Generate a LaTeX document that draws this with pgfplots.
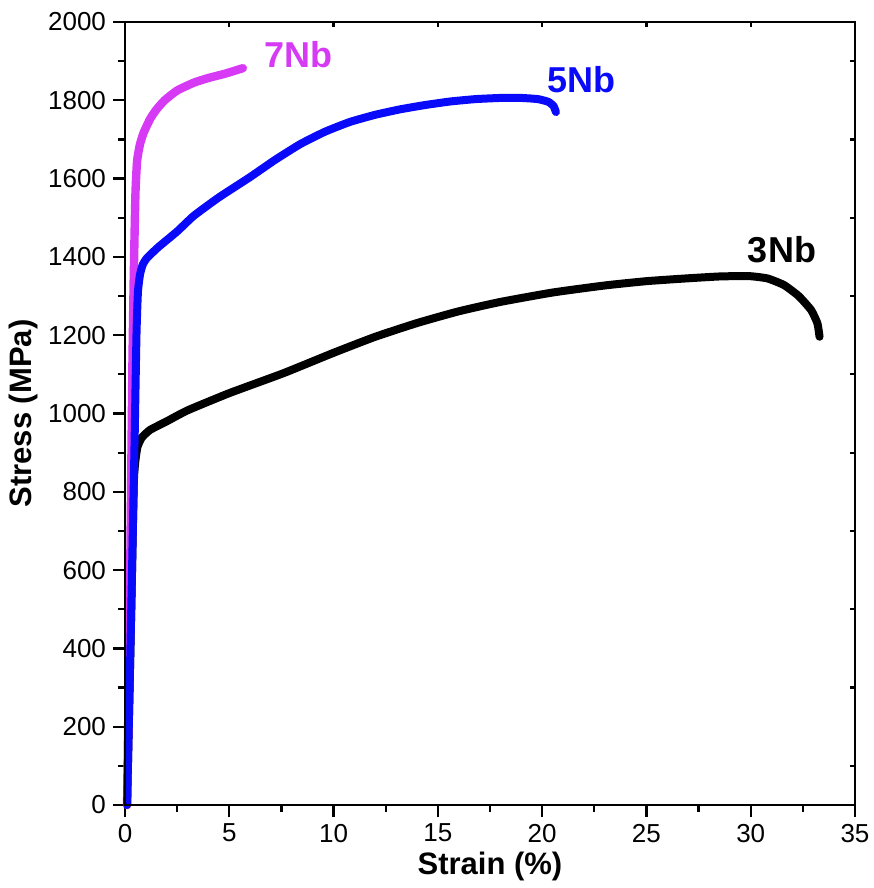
\documentclass[border=0pt]{standalone}
\usepackage{pgfplots}
\pgfplotsset{compat=1.18}
\usepackage{fontspec}
\setmainfont{Liberation Sans}
\definecolor{mag}{RGB}{214,58,245}
\definecolor{blu}{RGB}{10,10,250}
\begin{document}
\begin{tikzpicture}
\begin{axis}[
  scale only axis, width=365pt, height=391.5pt,
  xmin=0, xmax=35, ymin=0, ymax=2000,
  xtick={0,5,...,35}, ytick={0,200,...,2000},
  minor x tick num=1, minor y tick num=1,
  tick pos=left, tick align=outside,
  major tick length=6pt, minor tick length=3.5pt,
  every tick/.style={line width=1.1pt, black},
  axis line style={line width=1.2pt},
  /pgf/number format/assume math mode=true,
  /pgf/number format/1000 sep={},
  ticklabel style={font=\fontsize{13}{15}\selectfont},
  xlabel={\textbf{Strain (\%)}}, ylabel={\textbf{Stress (MPa)}},
  label style={font=\fontsize{15.5}{17}\selectfont},
  xlabel style={yshift=2pt}, ylabel style={yshift=-2pt},
  clip=false,
]
\addplot[black, line width=4pt, line cap=round, line join=round, smooth, tension=0.3] coordinates {
(0.1,0) (0.3,500) (0.42,820) (0.5,880) (0.6,915) (0.8,938) (1.2,958) (2,980) (3,1008) (5,1052) (7.6,1103) (10,1155) (12,1196) (14.0,1231) (16,1261) (18,1285) (20.5,1309) (23,1327) (25,1338) (26.9,1345) (28.5,1350) (29.9,1351) (30.8,1345) (31.6,1328) (32.3,1300) (32.9,1264) (33.2,1230) (33.3,1196)};
\addplot[mag, line width=4.2pt, line cap=round, line join=round, smooth, tension=0.3] coordinates {
(0.1,0) (0.25,600) (0.35,1100) (0.42,1350) (0.5,1560) (0.58,1645) (0.72,1688) (0.9,1718) (1.2,1752) (1.5,1776) (1.9,1800) (2.5,1825) (3.3,1845) (4.0,1857) (4.8,1868) (5.65,1882)};
\addplot[blu, line width=4pt, line cap=round, line join=round, smooth, tension=0.3] coordinates {
(0.1,0) (0.3,500) (0.45,900) (0.55,1200) (0.62,1310) (0.72,1355) (0.85,1380) (1.05,1397) (1.6,1425) (2.5,1465) (3.3,1505) (4.5,1552) (6.0,1604) (7.2,1648) (8.4,1688) (9.6,1720) (10.8,1745) (12,1763) (13.2,1777) (14.4,1788) (15.6,1797) (16.8,1803) (18.0,1806) (19.0,1806) (19.8,1803) (20.3,1796) (20.55,1785) (20.66,1770)};
\node[mag, font=\fontsize{18}{20}\selectfont\bfseries] at (axis cs:8.3,1916) {7Nb};
\node[blu, font=\fontsize{18}{20}\selectfont\bfseries] at (axis cs:21.9,1852) {5Nb};
\node[black, font=\fontsize{18}{20}\selectfont\bfseries] at (axis cs:31.5,1418) {3Nb};
\end{axis}
\begin{axis}[
  scale only axis, width=365pt, height=391.5pt,
  xmin=0, xmax=35, ymin=0, ymax=2000,
  xtick={5,10,...,30}, ytick={100,300,...,1900},
  xticklabels={}, yticklabels={},
  tick pos=right, tick align=inside,
  major tick length=2.5pt,
  every tick/.style={line width=1.1pt, black},
  axis line style={line width=1.2pt},
]
\end{axis}
\pgfresetboundingbox
\path (-62.5pt,-41.5pt) rectangle (374pt,402.5pt);
\end{tikzpicture}
\end{document}
